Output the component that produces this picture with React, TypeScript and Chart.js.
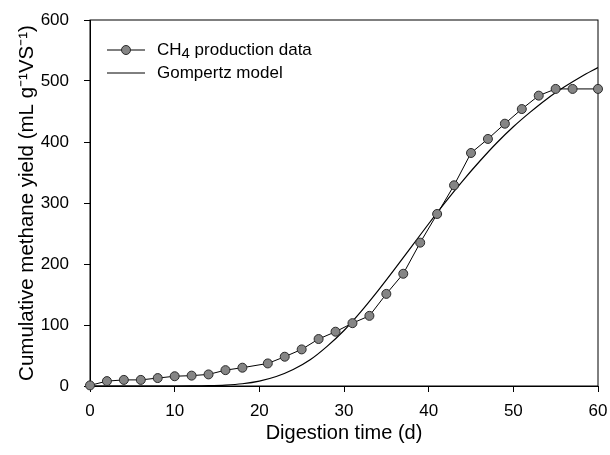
import React, { useEffect, useRef } from "react";
import { Chart, registerables } from "chart.js";

Chart.register(...registerables);

// Measured CH4 production data
const dataDays = [0, 2, 4, 6, 8, 10, 12, 14, 16, 18, 21, 23, 25, 27, 29, 31, 33, 35, 37, 39, 41, 43, 45, 47, 49, 51, 53, 55, 57, 60];
const dataYield = [1, 8, 10, 10, 13, 16, 17, 19, 26, 30, 37, 48, 60, 77, 89, 103, 115, 151, 184, 235, 282, 329, 382, 405, 430, 454, 476, 487, 487, 487];

// Gompertz model curve
const modelDays = [0, 2, 4, 6, 8, 10, 12, 14, 16, 18, 20, 22, 24, 26, 28, 30, 32, 34, 36, 38, 40, 42, 44, 46, 48, 50, 52, 54, 56, 58, 60];
const modelYield = [0, 0, 0, 0, 0, 0, 0.1, 0.5, 1.5, 3.7, 8, 15.5, 27, 43, 65, 91, 122, 156, 192, 229, 266, 302, 336, 368, 398, 425, 449, 471, 490, 507, 522];

const xTicks = [0, 10, 20, 30, 40, 50, 60];
const yTicks = [0, 100, 200, 300, 400, 500, 600];

const legendLabels = ["CH", "4", " production data", "Gompertz model"];

const FONT = "'Liberation Sans', Arial, Helvetica, sans-serif";

export default function App() {
  const ref = useRef<HTMLCanvasElement | null>(null);

  useEffect(() => {
    document.body.style.margin = "0";
    const canvas = ref.current;
    if (!canvas) return;

    const framePlugin = {
      id: "frame",
      beforeDatasetsDraw(chart: any) {
        const { ctx, chartArea } = chart;
        ctx.save();
        ctx.strokeStyle = "#000";
        ctx.lineWidth = 1;
        ctx.strokeRect(chartArea.left, chartArea.top, chartArea.right - chartArea.left, chartArea.bottom - chartArea.top);
        ctx.restore();
      },
    };

    const legendPlugin = {
      id: "customLegend",
      afterDraw(chart: any) {
        const { ctx } = chart;
        ctx.save();
        const x0 = 107, x1 = 145, tx = 157;
        const y1 = 50, y2 = 73;
        ctx.strokeStyle = "#000";
        ctx.lineWidth = 1;
        ctx.beginPath();
        ctx.moveTo(x0, y1);
        ctx.lineTo(x1, y1);
        ctx.moveTo(x0, y2);
        ctx.lineTo(x1, y2);
        ctx.stroke();
        ctx.beginPath();
        ctx.arc((x0 + x1) / 2, y1, 4.5, 0, Math.PI * 2);
        ctx.fillStyle = "#858585";
        ctx.fill();
        ctx.strokeStyle = "#2a2a2a";
        ctx.stroke();
        ctx.fillStyle = "#000";
        ctx.textBaseline = "middle";
        ctx.textAlign = "left";
        ctx.font = `17px ${FONT}`;
        ctx.fillText(legendLabels[0], tx, y1);
        let w = ctx.measureText(legendLabels[0]).width;
        ctx.font = `15px ${FONT}`;
        ctx.fillText(legendLabels[1], tx + w, y1 + 4);
        w += ctx.measureText(legendLabels[1]).width;
        ctx.font = `17px ${FONT}`;
        ctx.fillText(legendLabels[2], tx + w, y1);
        ctx.fillText(legendLabels[3], tx, y2);
        ctx.restore();
      },
    };

    const chart = new Chart(canvas, {
      type: "scatter",
      data: {
        datasets: [
          {
            label: "CH4 production data",
            data: dataDays.map((d, i) => ({ x: d, y: dataYield[i] })),
            showLine: true,
            borderColor: "#000",
            borderWidth: 1,
            pointRadius: 4.5,
            pointBackgroundColor: "#858585",
            pointBorderColor: "#2a2a2a",
            pointBorderWidth: 1,
            tension: 0,
            clip: false as any,
            order: 1,
          },
          {
            label: "Gompertz model",
            data: modelDays.map((d, i) => ({ x: d, y: modelYield[i] })),
            showLine: true,
            borderColor: "#000",
            borderWidth: 1.2,
            pointRadius: 0,
            cubicInterpolationMode: "monotone",
            order: 2,
          },
        ],
      },
      options: {
        responsive: false,
        animation: false,
        layout: { padding: { top: 20, right: 12, left: 0, bottom: 0 } },
        plugins: { legend: { display: false }, tooltip: { enabled: false } },
        scales: {
          x: {
            type: "linear",
            min: 0,
            max: 60,
            afterBuildTicks: (axis: any) => {
              axis.ticks = xTicks.map((v) => ({ value: v }));
            },
            afterFit: (axis: any) => {
              axis.height = 69;
              axis.paddingLeft = 0;
              axis.paddingRight = 0;
            },
            ticks: { color: "#000", font: { size: 17, family: FONT }, padding: 9, maxRotation: 0 },
            grid: { drawOnChartArea: false, drawTicks: true, tickLength: 6, color: "#000", tickColor: "#000" },
            border: { display: true, color: "#000", width: 1 },
            title: {
              display: true,
              text: "Digestion time (d)",
              color: "#000",
              font: { size: 20, family: FONT },
              padding: { top: 0, bottom: 10 },
            },
          },
          y: {
            type: "linear",
            min: 0,
            max: 600,
            afterBuildTicks: (axis: any) => {
              axis.ticks = yTicks.map((v) => ({ value: v }));
            },
            afterFit: (axis: any) => {
              axis.width = 90;
              axis.paddingTop = 0;
              axis.paddingBottom = 0;
            },
            ticks: { color: "#000", font: { size: 17, family: FONT }, padding: 15 },
            grid: { drawOnChartArea: false, drawTicks: true, tickLength: 6, color: "#000", tickColor: "#000" },
            border: { display: true, color: "#000", width: 1 },
            title: {
              display: true,
              text: "Cumulative methane yield (mL g⁻¹VS⁻¹)",
              color: "#000",
              font: { size: 20.5, family: FONT },
              padding: { top: 15, bottom: 0 },
            },
          },
        },
      },
      plugins: [framePlugin, legendPlugin],
    });

    return () => chart.destroy();
  }, []);

  return (
    <div style={{ width: 610, height: 455, background: "#fff" }}>
      <canvas ref={ref} width={610} height={455} style={{ display: "block" }} />
    </div>
  );
}
